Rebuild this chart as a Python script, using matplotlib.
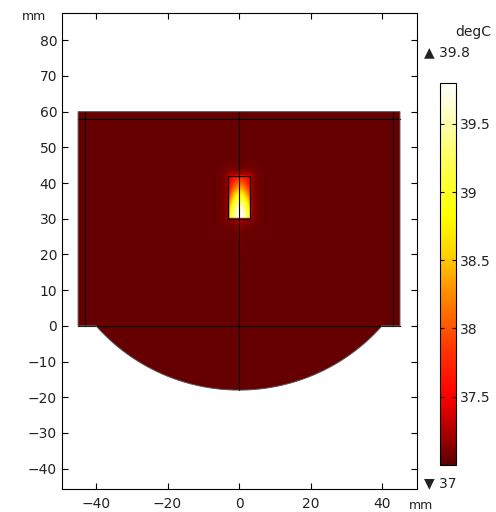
import numpy as np
import matplotlib
matplotlib.use('Agg')
import matplotlib.pyplot as plt
from matplotlib.colors import LinearSegmentedColormap
from matplotlib.patches import Polygon

# Temperature range and colorbar ticks (degC)
t_min, t_max = 37.0, 39.8
cbar_ticks = [37.5, 38, 38.5, 39, 39.5]
cbar_labels = ['37.5', '38', '38.5', '39', '39.5']
x_ticks = [-40, -20, 0, 20, 40]
y_ticks = [-40, -30, -20, -10, 0, 10, 20, 30, 40, 50, 60, 70, 80]

# Geometry (mm)
box_x = [-45, 45]
box_y = [0, 60]
circle_center = [0, 35.4]
circle_radius = 53.4
source_x = [-3, 3]
source_y = [30, 42]
inner_vlines = [-43, 43]
inner_hline = 58

# Heat source field parameters
base_temp = 37.04
peak_temp = 39.8
peak_y = 30.5

# colormap similar to the COMSOL "thermal light" table
cmap = LinearSegmentedColormap.from_list('thermal', [
    (0.0, (0.36, 0, 0)), (0.1, (0.72, 0, 0)), (0.18, (1, 0, 0)),
    (0.3, (1, 0.2, 0)), (0.45, (1, 0.55, 0)), (0.55, (1, 0.82, 0)),
    (0.65, (1, 1, 0)), (0.8, (1, 1, 0.35)), (0.9, (1, 1, 0.7)),
    (1.0, (1, 1, 1))])

# temperature field
x = np.linspace(-46, 46, 700)
y = np.linspace(-20, 61, 620)
X, Y = np.meshgrid(x, y)
inside = (X >= source_x[0]) & (X <= source_x[1]) & (Y >= source_y[0]) & (Y <= source_y[1])
width = 4.0 - 1.5 * np.clip((Y - source_y[0]) / 12, 0, 1)
T_in = 37.3 + (peak_temp - 37.3) * np.exp(-(X / width) ** 2) * np.exp(-((Y - peak_y) / 8.5) ** 2)
dx = np.maximum(np.maximum(source_x[0] - X, X - source_x[1]), 0)
dy = np.maximum(np.maximum(source_y[0] - Y, Y - source_y[1]), 0)
d = np.hypot(dx, dy)
T_out = base_temp + 0.3 * np.exp(-d / 1.0) * np.exp(-(X / 4) ** 2 * 0.3)
T_out += 0.1 * np.exp(-(X / 1.0) ** 2) * np.exp(-np.clip(source_y[0] - Y, 0, None) / 5) * (Y < source_y[0])
T = np.where(inside, T_in, T_out)

fig = plt.figure(figsize=(4.96, 5.12), dpi=100)
ax = fig.add_axes([0.125, 0.045, 0.716, 0.930])

# domain outline: rectangle + circular cap below
x0 = np.sqrt(circle_radius ** 2 - circle_center[1] ** 2)
th0 = np.arctan2(-circle_center[1], x0)
th = np.linspace(th0, -np.pi - th0, 200)
arc = np.column_stack([circle_center[0] + circle_radius * np.cos(th),
                       circle_center[1] + circle_radius * np.sin(th)])
pts = np.vstack([[box_x[0], box_y[1]], [box_x[1], box_y[1]], [box_x[1], box_y[0]],
                 arc, [box_x[0], box_y[0]]])
domain = Polygon(pts, closed=True, facecolor='none', edgecolor='#555555', lw=0.7, zorder=3)
ax.add_patch(domain)

im = ax.imshow(T, extent=[x[0], x[-1], y[0], y[-1]], origin='lower', cmap=cmap,
               vmin=t_min, vmax=t_max, interpolation='bilinear', aspect='auto')
im.set_clip_path(domain)

# internal boundaries
lc = 'black'
for vx in inner_vlines:
    ax.plot([vx, vx], [box_y[0], box_y[1]], color=lc, lw=0.8)
ax.plot(box_x, [inner_hline, inner_hline], color=lc, lw=0.8)
ax.plot(box_x, [0, 0], color=lc, lw=0.8)
ax.plot([0, 0], [circle_center[1] - circle_radius, box_y[1]], color=lc, lw=0.8)
ax.plot([source_x[0], source_x[1], source_x[1], source_x[0], source_x[0]],
        [source_y[0], source_y[0], source_y[1], source_y[1], source_y[0]], color=lc, lw=0.9)

ax.set_xlim(-49.5, 49.8)
ax.set_ylim(-45.7, 87.7)
ax.set_xticks(x_ticks)
ax.set_yticks(y_ticks)
ax.tick_params(direction='in', top=True, right=True, labeltop=False, labelright=False,
               labelsize=10, labelcolor='#222222', length=4)
ax.tick_params(axis='x', pad=6)
fig.text(0.045, 0.968, 'mm', fontsize=9, color='#222222', ha='left', va='center')
fig.text(0.825, 0.013, 'mm', fontsize=9, color='#222222', ha='left', va='center')

# colorbar
cax = fig.add_axes([0.887, 0.092, 0.032, 0.746])
cb = fig.colorbar(im, cax=cax, ticks=cbar_ticks)
cb.ax.set_yticklabels(cbar_labels)
cb.ax.tick_params(direction='in', length=3, left=True, right=True, labelsize=10,
                  labelcolor='#222222', pad=3)
cb.outline.set_linewidth(0.8)
fig.text(0.954, 0.937, 'degC', fontsize=10, color='#222222', ha='center', va='center')
fig.text(0.855, 0.898, '▲ 39.8', fontsize=10, color='#222222', ha='left', va='center')
fig.text(0.855, 0.057, '▼ 37', fontsize=10, color='#222222', ha='left', va='center')

fig.savefig('out.png', dpi=100)
